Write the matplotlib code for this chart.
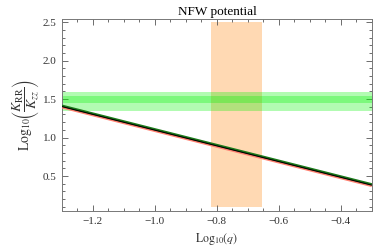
import matplotlib
matplotlib.use("Agg")
import matplotlib.pyplot as plt
from matplotlib.ticker import MultipleLocator

# =========================================================================
# Data
# =========================================================================
logq = [-1.3, -0.3]
ratio_green = [1.415, 0.393]
ratio_red = [1.398, 0.376]

q_band = [-0.82, -0.655]          # orange vertical band (log10 q)
q_band_y = [0.1, 2.5]
ratio_outer = [1.34, 1.59]        # light green horizontal band
ratio_inner = [1.45, 1.54]        # darker inner band

# =========================================================================
# Style
# =========================================================================
plt.rcParams.update({
    "font.family": "Liberation Serif",
    "mathtext.fontset": "stix",
    "font.size": 8,
})

fig = plt.figure(figsize=(3.73, 2.48), dpi=100)
ax = fig.add_axes([0.166, 0.149, 0.831, 0.774])

ax.fill_between(q_band, q_band_y[0], q_band_y[1], color="#ffd9b3", lw=0, zorder=1)
ax.axhspan(ratio_outer[0], ratio_outer[1], color=(0.0, 0.95, 0.0), alpha=0.3, lw=0, zorder=2)
ax.axhspan(ratio_inner[0], ratio_inner[1], color=(0.0, 0.95, 0.0), alpha=0.3, lw=0, zorder=2)

ax.plot(logq, ratio_red, color="#ff8070", lw=2.2, zorder=3, solid_capstyle="butt")
ax.plot(logq, ratio_green, color="#1a7a1a", lw=1.6, zorder=4, solid_capstyle="butt")
ax.plot(logq, [v - 0.012 for v in ratio_green], color="black", lw=0.8, zorder=5,
        solid_capstyle="butt")

ax.set_xlim(-1.3, -0.3)
ax.set_ylim(0.045, 2.54)

ax.xaxis.set_major_locator(MultipleLocator(0.2))
ax.xaxis.set_minor_locator(MultipleLocator(0.05))
ax.yaxis.set_major_locator(MultipleLocator(0.5))
ax.yaxis.set_minor_locator(MultipleLocator(0.1))
ax.set_yticks([0.5, 1.0, 1.5, 2.0, 2.5])
ax.set_xticks([-1.2, -1.0, -0.8, -0.6, -0.4])
ax.set_xticklabels(["\u22121.2", "\u22121.0", "\u22120.8", "\u22120.6", "\u22120.4"])

ax.tick_params(which="both", direction="in", top=True, right=True, color="#555555",
               width=0.6, colors="#333333")
ax.tick_params(which="major", length=4, pad=4)
ax.tick_params(which="minor", length=2)
for s in ax.spines.values():
    s.set_color("#777777")
    s.set_linewidth(0.7)

ax.set_title("NFW potential", fontsize=9.5, pad=3)
ax.set_xlabel(r"$\mathrm{Log}_{10}(q)$", fontsize=8.5, color="#333333", labelpad=4)
ax.set_ylabel(r"$\mathrm{Log}_{10}\!\left(\dfrac{K_{\mathrm{RR}}}{K_{zz}}\right)$", fontsize=10,
              color="#333333", labelpad=1)

fig.savefig("out.png", dpi=100)
